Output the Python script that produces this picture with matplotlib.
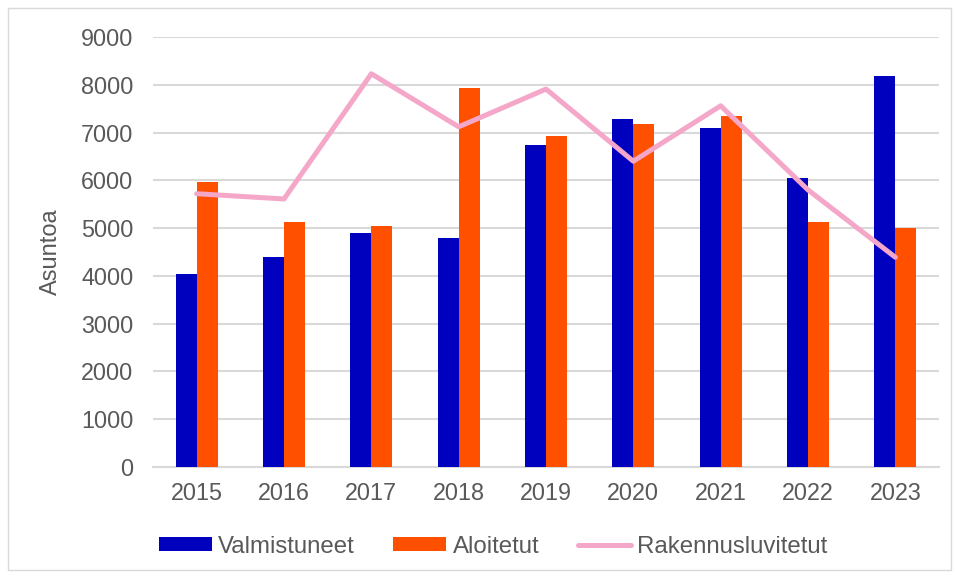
import matplotlib
matplotlib.use("Agg")
import matplotlib.pyplot as plt
import numpy as np
from matplotlib.patches import Rectangle

years = ["2015", "2016", "2017", "2018", "2019", "2020", "2021", "2022", "2023"]
valmistuneet = [4040, 4400, 4890, 4800, 6730, 7280, 7100, 6050, 8180]
aloitetut = [5970, 5130, 5040, 7940, 6920, 7180, 7350, 5130, 5010]
rakennusluvitetut = [5720, 5610, 8230, 7120, 7910, 6400, 7560, 5800, 4390]

plt.rcParams['font.family'] = ['Liberation Sans', 'DejaVu Sans']
text_color = '#595959'
fs = 16.8

fig = plt.figure(figsize=(9.55, 5.78), dpi=100)
fig.patches.append(Rectangle((8/955, 8/578), 943/955, 562/578, transform=fig.transFigure,
                             fill=False, edgecolor='#D9D9D9', linewidth=1.0))
ax = fig.add_axes([153/955, (578-467)/578, (939-153)/955, (467-37)/578])

x = np.arange(len(years))
w = 0.24
b1 = ax.bar(x - w/2, valmistuneet, width=w, color='#0000BF', label='Valmistuneet', zorder=3)
b2 = ax.bar(x + w/2, aloitetut, width=w, color='#FF5000', label='Aloitetut', zorder=3)
l1, = ax.plot(x, rakennusluvitetut, color='#F4A7C8', linewidth=3.6, label='Rakennusluvitetut',
              zorder=4, solid_joinstyle='round', solid_capstyle='round')

ax.set_xlim(-0.5, len(years) - 0.5)
ax.set_ylim(0, 9000)
ax.set_yticks(np.arange(0, 9001, 1000))
ax.set_xticks(x)
ax.set_xticklabels(years)
ax.yaxis.grid(True, color='#D9D9D9', linewidth=1.5, zorder=0)
ax.set_axisbelow(True)
for s in ['top', 'right', 'left']:
    ax.spines[s].set_visible(False)
ax.spines['bottom'].set_color('#D9D9D9')
ax.spines['bottom'].set_linewidth(1.5)
ax.tick_params(axis='both', length=0, labelsize=fs, colors=text_color)
ax.tick_params(axis='y', pad=14)
ax.tick_params(axis='x', pad=11)
ax.set_ylabel('Asuntoa', fontsize=17, color=text_color, labelpad=14)

fig.legend([b1, b2, l1], ['Valmistuneet', 'Aloitetut', 'Rakennusluvitetut'],
           loc='center', bbox_to_anchor=(493/955, 31/578), ncol=3, frameon=False,
           fontsize=17.3, handlelength=2.2, handleheight=0.52, handletextpad=0.27,
           columnspacing=1.6, labelcolor=text_color)

fig.savefig('out.png', dpi=100)
